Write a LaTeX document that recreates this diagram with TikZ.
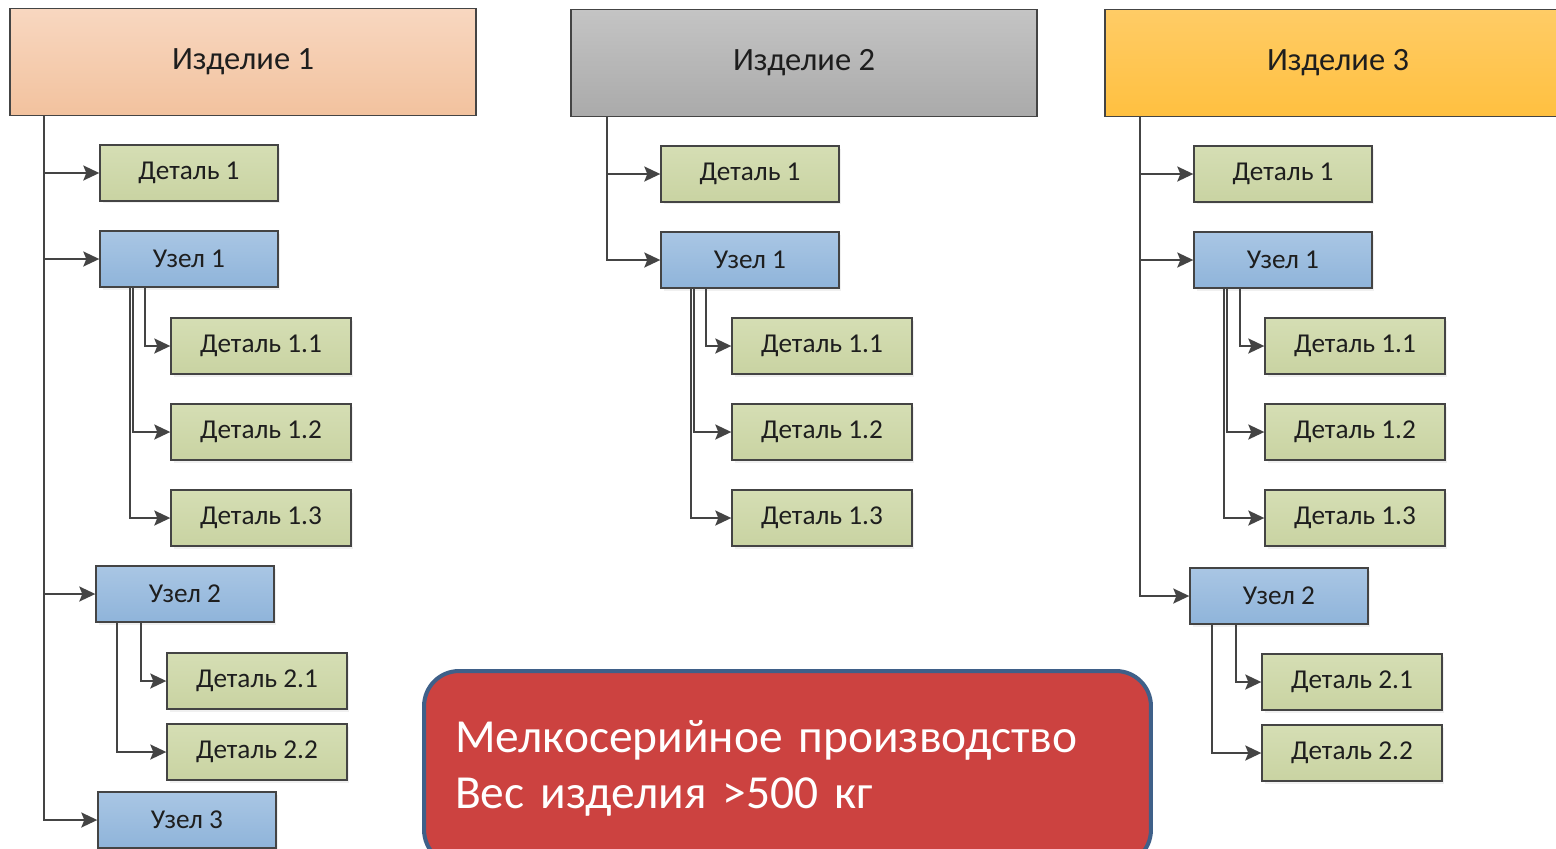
\documentclass[tikz,border=0pt]{standalone}
\usepackage{fontspec}
\setmainfont{Carlito}
\usepackage{tikz}
\usetikzlibrary{arrows.meta,shadows}
\definecolor{izdPeachTop}{HTML}{F8D7C0}
\definecolor{izdPeachBot}{HTML}{F2C29E}
\definecolor{izdGrayTop}{HTML}{C4C4C4}
\definecolor{izdGrayBot}{HTML}{AAAAAA}
\definecolor{izdGoldTop}{HTML}{FFCC66}
\definecolor{izdGoldBot}{HTML}{FFC040}
\definecolor{partGreenTop}{HTML}{D5DEB4}
\definecolor{partGreenBot}{HTML}{C9D3A2}
\definecolor{unitBlueTop}{HTML}{A9C6E4}
\definecolor{unitBlueBot}{HTML}{8FB4DA}
\definecolor{noteRed}{HTML}{CC4240}
\definecolor{noteLine}{HTML}{3F6089}
\definecolor{treeLine}{HTML}{444444}
\definecolor{txtDark}{HTML}{1E1E1E}
\tikzset{
  izd/.style={
    rectangle,
    draw=treeLine,
    line width=0.8pt,
    text=txtDark,
    font=\fontsize{18.5}{22}\selectfont,
    minimum width=9.32cm,
    minimum height=2.14cm
  },
  smallbox/.style={
    rectangle,
    draw=treeLine,
    line width=0.8pt,
    text=txtDark,
    font=\fontsize{15.5}{18}\selectfont,
    minimum width=3.56cm,
    minimum height=1.12cm,
    drop shadow={shadow xshift=0.05cm, shadow yshift=-0.05cm, opacity=0.12}
  },
  izdOrange/.style={izd, top color=izdPeachTop, bottom color=izdPeachBot},
  izdGray/.style={izd, top color=izdGrayTop, bottom color=izdGrayBot},
  izdYellow/.style={izd, top color=izdGoldTop, bottom color=izdGoldBot},
  part/.style={smallbox, top color=partGreenTop, bottom color=partGreenBot},
  subpart/.style={part, minimum width=3.6cm},
  unit/.style={smallbox, top color=unitBlueTop, bottom color=unitBlueBot},
  note/.style={
    rectangle,
    rounded corners=0.7cm,
    draw=noteLine,
    line width=2.3pt,
    fill=noteRed,
    text=white,
    align=left,
    text width=13.3cm,
    minimum width=14.54cm,
    minimum height=3.88cm,
    font=\fontsize{27}{32}\selectfont
  },
  arrow/.style={-{Stealth[length=3.2mm, width=3mm, inset=0.6mm]}, line width=1.1pt, draw=treeLine}
}

\begin{document}
\begin{tikzpicture}[x=0.02cm, y=-0.02cm]
  \useasboundingbox (0,0) rectangle (1556,849);
  \clip (0,0) rectangle (1556,849);

  % Изделие 1
  \node[izdOrange] (izd1) at (243,62) {Изделие 1};
  \node[part] (det1a) at (189,173) {Деталь 1};
  \node[unit] (uz1a) at (189,259) {Узел 1};
  \node[subpart] (det11a) at (261,346) {Деталь 1.1};
  \node[subpart] (det12a) at (261,432) {Деталь 1.2};
  \node[subpart] (det13a) at (261,518) {Деталь 1.3};
  \node[unit] (uz2a) at (185,594) {Узел 2};
  \node[subpart] (det21a) at (257,681) {Деталь 2.1};
  \node[subpart] (det22a) at (257,752) {Деталь 2.2};
  \node[unit] (uz3a) at (187,820) {Узел 3};

  % Изделие 2
  \node[izdGray] (izd2) at (804,63) {Изделие 2};
  \node[part] (det1b) at (750,174) {Деталь 1};
  \node[unit] (uz1b) at (750,260) {Узел 1};
  \node[subpart] (det11b) at (822,346) {Деталь 1.1};
  \node[subpart] (det12b) at (822,432) {Деталь 1.2};
  \node[subpart] (det13b) at (822,518) {Деталь 1.3};

  % Изделие 3
  \node[izdYellow] (izd3) at (1338,63) {Изделие 3};
  \node[part] (det1c) at (1283,174) {Деталь 1};
  \node[unit] (uz1c) at (1283,260) {Узел 1};
  \node[subpart] (det11c) at (1355,346) {Деталь 1.1};
  \node[subpart] (det12c) at (1355,432) {Деталь 1.2};
  \node[subpart] (det13c) at (1355,518) {Деталь 1.3};
  \node[unit] (uz2c) at (1279,596) {Узел 2};
  \node[subpart] (det21c) at (1352,682) {Деталь 2.1};
  \node[subpart] (det22c) at (1352,753) {Деталь 2.2};

  \node[note] (note) at (787.5,768) {Мелкосерийное производство\\Вес изделия >500 кг};

  \draw[arrow] ([xshift=0.7cm]izd1.south west) |- (det1a);
  \draw[arrow] ([xshift=0.7cm]izd1.south west) |- (uz1a);
  \draw[arrow] ([xshift=0.7cm]izd1.south west) |- (uz2a);
  \draw[arrow] ([xshift=0.7cm]izd1.south west) |- (uz3a);
  \draw[arrow] ([xshift=0.92cm]uz1a.south west) |- (det11a);
  \draw[arrow] ([xshift=0.68cm]uz1a.south west) |- (det12a);
  \draw[arrow] ([xshift=0.62cm]uz1a.south west) |- (det13a);
  \draw[arrow] ([xshift=0.92cm]uz2a.south west) |- (det21a);
  \draw[arrow] ([xshift=0.44cm]uz2a.south west) |- (det22a);

  \draw[arrow] ([xshift=0.74cm]izd2.south west) |- (det1b);
  \draw[arrow] ([xshift=0.74cm]izd2.south west) |- (uz1b);
  \draw[arrow] ([xshift=0.92cm]uz1b.south west) |- (det11b);
  \draw[arrow] ([xshift=0.68cm]uz1b.south west) |- (det12b);
  \draw[arrow] ([xshift=0.62cm]uz1b.south west) |- (det13b);

  \draw[arrow] ([xshift=0.72cm]izd3.south west) |- (det1c);
  \draw[arrow] ([xshift=0.72cm]izd3.south west) |- (uz1c);
  \draw[arrow] ([xshift=0.72cm]izd3.south west) |- (uz2c);
  \draw[arrow] ([xshift=0.94cm]uz1c.south west) |- (det11c);
  \draw[arrow] ([xshift=0.68cm]uz1c.south west) |- (det12c);
  \draw[arrow] ([xshift=0.62cm]uz1c.south west) |- (det13c);
  \draw[arrow] ([xshift=0.94cm]uz2c.south west) |- (det21c);
  \draw[arrow] ([xshift=0.46cm]uz2c.south west) |- (det22c);
\end{tikzpicture}
\end{document}
